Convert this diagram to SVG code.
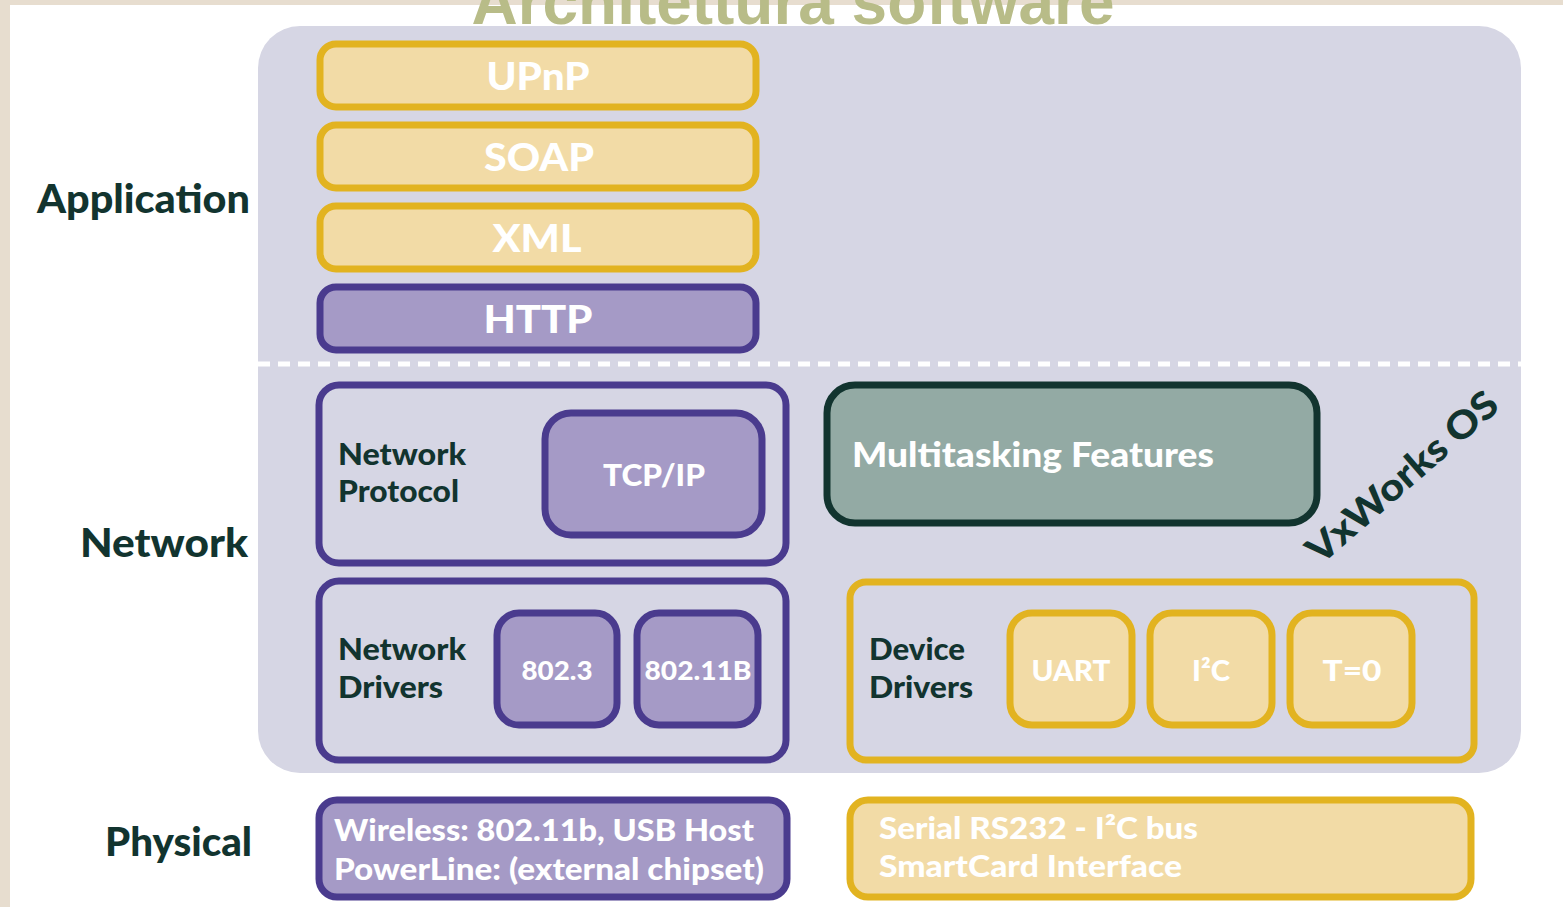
<svg xmlns="http://www.w3.org/2000/svg" width="1563" height="907" viewBox="0 0 1563 907">
<style>
text{font-family:"Lato","Liberation Sans","DejaVu Sans",sans-serif;font-weight:900}
.w{fill:#ffffff}
.d{fill:#12342f}
.y{fill:#f2dba6;stroke:#e2b320;stroke-width:7}
.yo{fill:none;stroke:#e2b320;stroke-width:7}
.p{fill:#a59ac6;stroke:#4a3b8e;stroke-width:7}
.po{fill:none;stroke:#4a3b8e;stroke-width:7}
.g{fill:#93aaa4;stroke:#12342f;stroke-width:7}
</style>
<rect x="0" y="0" width="1563" height="907" fill="#e7ddcf"/>
<rect x="10" y="5" width="1553" height="902" fill="#ffffff"/>
<text x="793" y="24" text-anchor="middle" font-size="64" fill="#b8bc88" textLength="643" lengthAdjust="spacingAndGlyphs" style="font-family:'Liberation Sans',Arial,sans-serif;font-weight:bold">Architettura software</text>
<rect id="panel" x="258" y="26" width="1263" height="747" rx="42" fill="#d6d6e4"/>
<g id="connectors">
<line x1="258" y1="364" x2="1521" y2="364" stroke="#ffffff" stroke-width="5" stroke-dasharray="12 8"/>
</g>
<g id="label-application"><text class="d" x="250" y="213" text-anchor="end" font-size="39" textLength="213" lengthAdjust="spacingAndGlyphs">Application</text></g>
<g id="label-network"><text class="d" x="248" y="557" text-anchor="end" font-size="39" textLength="168" lengthAdjust="spacingAndGlyphs">Network</text></g>
<g id="label-physical"><text class="d" x="252" y="856" text-anchor="end" font-size="39" textLength="147" lengthAdjust="spacingAndGlyphs">Physical</text></g>
<g id="upnp"><rect class="y" x="320" y="44" width="436" height="63" rx="16"/><text class="w" x="538" y="90" text-anchor="middle" font-size="38" textLength="103" lengthAdjust="spacingAndGlyphs">UPnP</text></g>
<g id="soap"><rect class="y" x="320" y="125" width="436" height="63" rx="16"/><text class="w" x="539" y="171" text-anchor="middle" font-size="38" textLength="110" lengthAdjust="spacingAndGlyphs">SOAP</text></g>
<g id="xml"><rect class="y" x="320" y="206" width="436" height="63" rx="16"/><text class="w" x="537" y="252" text-anchor="middle" font-size="38" textLength="89" lengthAdjust="spacingAndGlyphs">XML</text></g>
<g id="http"><rect class="p" x="320" y="287" width="436" height="63" rx="16"/><text class="w" x="538" y="333" text-anchor="middle" font-size="38" textLength="109" lengthAdjust="spacingAndGlyphs">HTTP</text></g>
<g id="network-protocol"><rect class="po" x="319" y="385" width="467" height="178" rx="20"/>
<text class="d" x="338" y="465" font-size="31" textLength="128" lengthAdjust="spacingAndGlyphs">Network</text>
<text class="d" x="338" y="502" font-size="31" textLength="121" lengthAdjust="spacingAndGlyphs">Protocol</text></g>
<g id="tcpip"><rect class="p" x="545" y="413" width="217" height="122" rx="26"/><text class="w" x="654" y="486" text-anchor="middle" font-size="31" textLength="102" lengthAdjust="spacingAndGlyphs">TCP/IP</text></g>
<g id="network-drivers"><rect class="po" x="319" y="581" width="467" height="179" rx="20"/>
<text class="d" x="338" y="660" font-size="31" textLength="128" lengthAdjust="spacingAndGlyphs">Network</text>
<text class="d" x="338" y="698" font-size="31" textLength="105" lengthAdjust="spacingAndGlyphs">Drivers</text></g>
<g id="n8023"><rect class="p" x="497" y="613" width="120" height="112" rx="22"/><text class="w" x="557" y="680" text-anchor="middle" font-size="27" textLength="71" lengthAdjust="spacingAndGlyphs">802.3</text></g>
<g id="n80211b"><rect class="p" x="637" y="613" width="121" height="112" rx="22"/><text class="w" x="698" y="680" text-anchor="middle" font-size="27" textLength="107" lengthAdjust="spacingAndGlyphs">802.11B</text></g>
<g id="multitasking"><rect class="g" x="827" y="385" width="490" height="138" rx="28"/><text class="w" x="852" y="467" font-size="35" textLength="362" lengthAdjust="spacingAndGlyphs">Multitasking Features</text></g>
<g id="vxworks"><text class="d" x="0" y="0" font-size="38" text-anchor="middle" textLength="240" lengthAdjust="spacingAndGlyphs" transform="translate(1411 487) rotate(-41)">VxWorks OS</text></g>
<g id="device-drivers"><rect class="yo" x="850" y="582" width="624" height="178" rx="16"/>
<text class="d" x="869" y="660" font-size="31" textLength="96" lengthAdjust="spacingAndGlyphs">Device</text>
<text class="d" x="869" y="698" font-size="31" textLength="104" lengthAdjust="spacingAndGlyphs">Drivers</text></g>
<g id="uart"><rect class="y" x="1010" y="613" width="122" height="112" rx="22"/><text class="w" x="1071" y="681" text-anchor="middle" font-size="28" textLength="79" lengthAdjust="spacingAndGlyphs">UART</text></g>
<g id="i2c"><rect class="y" x="1150" y="613" width="122" height="112" rx="22"/><text class="w" x="1211" y="681" text-anchor="middle" font-size="28" textLength="38" lengthAdjust="spacingAndGlyphs">I²C</text></g>
<g id="t0"><rect class="y" x="1290" y="613" width="122" height="112" rx="22"/><text class="w" x="1352" y="681" text-anchor="middle" font-size="28" textLength="59" lengthAdjust="spacingAndGlyphs">T=0</text></g>
<g id="physical-network"><rect class="p" x="319" y="800" width="468" height="97" rx="18"/>
<text class="w" x="334" y="841" font-size="30" textLength="420" lengthAdjust="spacingAndGlyphs">Wireless: 802.11b, USB Host</text>
<text class="w" x="334" y="880" font-size="30" textLength="430" lengthAdjust="spacingAndGlyphs">PowerLine: (external chipset)</text></g>
<g id="physical-device"><rect class="y" x="850" y="800" width="621" height="97" rx="18"/>
<text class="w" x="879" y="839" font-size="30" textLength="319" lengthAdjust="spacingAndGlyphs">Serial RS232 - I²C bus</text>
<text class="w" x="879" y="877" font-size="30" textLength="303" lengthAdjust="spacingAndGlyphs">SmartCard Interface</text></g>
</svg>
